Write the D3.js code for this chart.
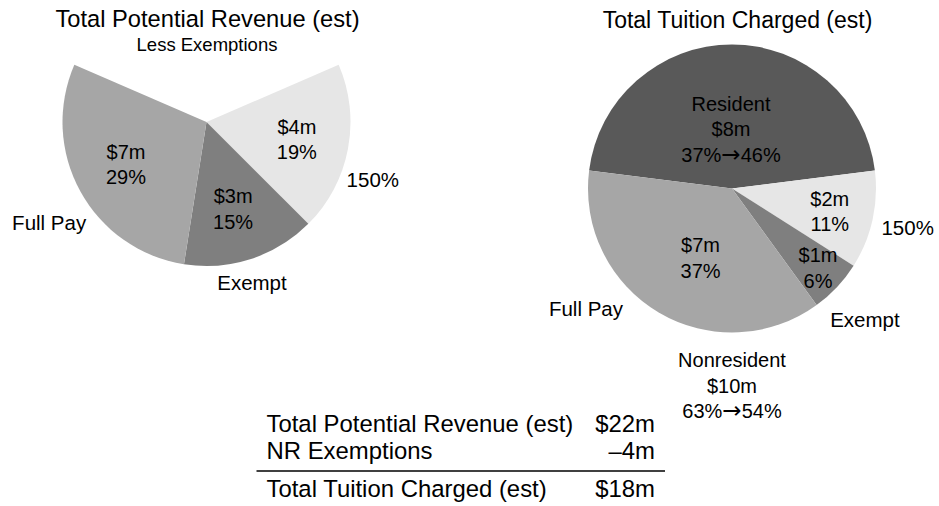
<!DOCTYPE html>
<html>
<head>
<meta charset="utf-8">
<script src="https://cdn.jsdelivr.net/npm/d3@7"></script>
<style>
  body { margin: 0; background: #fff; }
  svg { display: block; font-family: "Liberation Sans", Arial, Helvetica, sans-serif; }
  text { fill: #000; }
  .arrow { font-family: "DejaVu Sans", sans-serif; }
</style>
</head>
<body>
<svg id="chart" width="939" height="506"></svg>
<script>
// slices, in drawing order (clockwise from the resident wedge at the top)
var sliceNames = ["Resident", "150%", "Exempt", "Full Pay"];
var sliceColors = ["#595959", "#e6e6e6", "#7f7f7f", "#a6a6a6"];

// left pie: total potential revenue (resident wedge removed)
var potentialShare = [37, 19, 15, 29];
var potentialDollars = ["$8m", "$4m", "$3m", "$7m"];

// right pie: total tuition charged
var chargedShare = [46, 11, 6, 37];
var chargedDollars = ["$8m", "$2m", "$1m", "$7m"];

// [name, amount, share before, share after]
var residentLabel = ["Resident", "$8m", "37%", "46%"];
var nonresidentLabel = ["Nonresident", "$10m", "63%", "54%"];

// summary table
var tableLabels = ["Total Potential Revenue (est)", "NR Exemptions", "Total Tuition Charged (est)"];
var tableValues = ["$22m", "\u20134m", "$18m"];

window.onload = function() {
    drawChart();
};

function drawChart() {
    var svg = d3.select("#chart");
    var R = 144;
    var lineH = 25.5;
    var deg = Math.PI / 180;

    // put several centred lines of text around a point
    function multiLine(g, x, y, lines, size) {
        var t = g.append("text")
            .attr("text-anchor", "middle")
            .style("font-size", size + "px");
        lines.forEach(function(s, i) {
            t.append("tspan")
                .attr("x", x)
                .attr("y", y + (i - (lines.length - 1) / 2) * lineH)
                .attr("dy", "0.35em")
                .text(s);
        });
        return t;
    }

    // name / amount / "before -> after" block
    function changeLabel(g, x, y, lab) {
        var t = multiLine(g, x, y, [lab[0], lab[1], ""], 20);
        var last = t.selectAll("tspan").filter(function(d, i) { return i === 2; });
        last.append("tspan").text(lab[2]);
        last.append("tspan").attr("class", "arrow").style("font-size", "23px").text("\u2192");
        last.append("tspan").text(lab[3]);
    }

    function polar(cx, cy, angle, r) {
        return [cx + r * Math.sin(angle), cy - r * Math.cos(angle)];
    }

    function drawPie(opts) {
        var share = opts.share;
        var start = -share[0] / 100 * Math.PI;   // resident wedge centred on 12 o'clock
        var pie = d3.pie().sort(null).value(function(d) { return d; })
            .startAngle(start).endAngle(start + 2 * Math.PI);
        var arcs = pie(share);
        var arc = d3.arc().innerRadius(0).outerRadius(R);

        var g = svg.append("g").attr("transform", "translate(" + opts.cx + "," + opts.cy + ")");
        g.selectAll("path")
            .data(arcs)
            .enter().append("path")
            .attr("d", arc)
            .attr("fill", function(d, i) { return (i === 0 && opts.hideResident) ? "none" : sliceColors[i]; });

        // value labels inside the slices
        arcs.forEach(function(d, i) {
            if (i === 0) return;
            var mid = (d.startAngle + d.endAngle) / 2 + opts.innerShift[i] * deg;
            var p = polar(0, 0, mid, opts.innerR[i]);
            multiLine(g, p[0], p[1], [opts.dollars[i], share[i] + "%"], 20);
        });

        // category labels outside
        arcs.forEach(function(d, i) {
            if (i === 0) return;
            var mid = (d.startAngle + d.endAngle) / 2 + opts.outerShift[i] * deg;
            var p = polar(0, 0, mid, opts.outerR[i]);
            multiLine(g, p[0], p[1], [sliceNames[i]], 20.5);
        });

        return { g: g, arcs: arcs };
    }

    // left pie
    drawPie({
        cx: 206.5, cy: 122, share: potentialShare, dollars: potentialDollars, hideResident: true,
        innerR: [0, 92, 91, 91], innerShift: [0, 0, 1, 1],
        outerR: [0, 176, 167, 187], outerShift: [0, 8.3, 2.2, -3.9]
    });
    svg.append("text").attr("x", 207.5).attr("y", 26.7).attr("text-anchor", "middle")
        .style("font-size", "23.7px").text("Total Potential Revenue (est)");
    svg.append("text").attr("x", 207).attr("y", 50.7).attr("text-anchor", "middle")
        .style("font-size", "18.5px").text("Less Exemptions");

    // right pie
    var right = drawPie({
        cx: 732, cy: 188.5, share: chargedShare, dollars: chargedDollars, hideResident: false,
        innerR: [0, 100.5, 117, 76.5], innerShift: [0, 0.7, -0.5, -6.3],
        outerR: [0, 180, 187, 189], outerShift: [0, 0, 1.5, 20]
    });
    svg.append("text").attr("x", 737.5).attr("y", 28).attr("text-anchor", "middle")
        .style("font-size", "23px").text("Total Tuition Charged (est)");

    var resArc = right.arcs[0];
    var rp = polar(0, 0, (resArc.startAngle + resArc.endAngle) / 2, 59.5);
    changeLabel(right.g, rp[0] - 1, rp[1], residentLabel);

    // nonresident = everything that is not the resident wedge
    var nrMid = (right.arcs[1].startAngle + right.arcs[3].endAngle) / 2;
    var np = polar(0, 0, nrMid, 197);
    changeLabel(right.g, np[0], np[1], nonresidentLabel);

    // summary table
    var tx0 = 266.5, tx1 = 655;
    var rowY = [431.7, 459.3, 497.3];
    var tg = svg.append("g").style("font-size", "23.9px");
    tableLabels.forEach(function(s, i) {
        tg.append("text").attr("x", tx0).attr("y", rowY[i]).text(s);
        tg.append("text").attr("x", tx1).attr("y", rowY[i]).attr("text-anchor", "end").text(tableValues[i]);
    });
    svg.append("line")
        .attr("x1", 256.5).attr("x2", 665)
        .attr("y1", 471).attr("y2", 471)
        .attr("stroke", "#000").attr("stroke-width", 1.3);
}
</script>
</body>
</html>
